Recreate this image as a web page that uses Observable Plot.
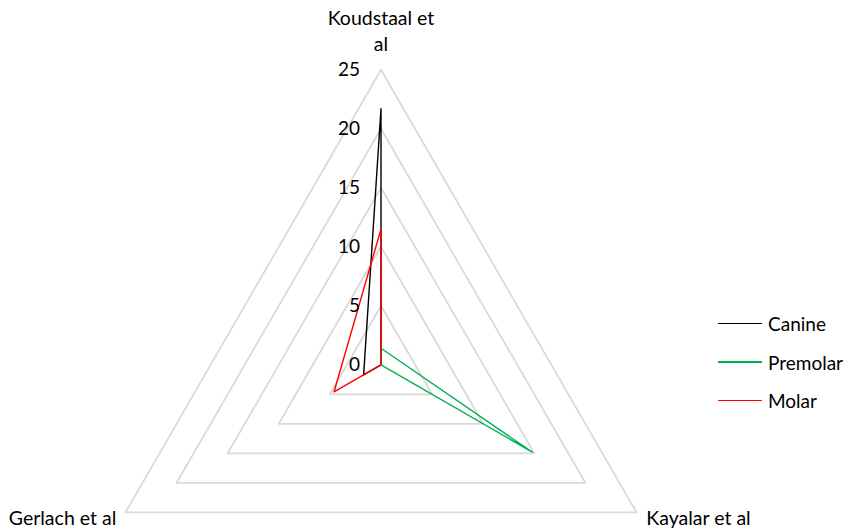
<!DOCTYPE html>
<html>
<head>
<meta charset="utf-8">
<script src="https://cdn.jsdelivr.net/npm/d3@7"></script>
<script src="https://cdn.jsdelivr.net/npm/@observablehq/plot@0.6"></script>
<style>
  html, body { margin: 0; padding: 0; background: #fff; }
  #wrap { position: relative; width: 846px; height: 530px; font-family: Lato, "Open Sans", sans-serif; }
  #legend { position: absolute; left: 718px; top: 304px; font-size: 19px; color: #000; }
  .item { display: flex; align-items: center; height: 38.7px; }
  .sw { width: 44px; height: 1.5px; margin-right: 6px; }
</style>
</head>
<body>
<div id="wrap"><div id="chart"></div><div id="legend"></div></div>
<script>
const axes = ["Koudstaal et al", "Kayalar et al", "Gerlach et al"];
const axisLabels = ["Koudstaal et\nal", "Kayalar et al", "Gerlach et al"];
const series = ["Canine", "Premolar", "Molar"];
const canine = [21.7, 0, 1.7];
const premolar = [1.4, 14.8, 0];
const molar = [11.5, 0, 4.6];
const ticks = [0, 5, 10, 15, 20, 25];
const colors = ["#000000", "#00b050", "#ff0000"];

// layout
const W = 846, H = 530, cx = 380.5, cy = 364.3, k = 11.8;
const angles = [90, -30, 210].map(d => d * Math.PI / 180);
const pt = (i, r) => [r * Math.cos(angles[i]), r * Math.sin(angles[i])];

// grid rings
const rings = [];
ticks.filter(t => t > 0).forEach(t => {
  [0, 1, 2, 0].forEach(i => { const [x, y] = pt(i, t); rings.push({ring: t, x, y}); });
});

// series polygons
const values = [canine, premolar, molar];
const lines = [];
series.forEach((s, si) => {
  [0, 1, 2, 0].forEach(i => { const [x, y] = pt(i, values[si][i]); lines.push({series: s, x, y}); });
});

const tickData = ticks.map(t => ({t, x: 0, y: t}));
const labelData = [
  {label: axisLabels[0], x: 0, y: (cy - 29) / k},
  {label: axisLabels[1], x: (698 - cx) / k, y: (cy - 516.5) / k},
  {label: axisLabels[2], x: (62 - cx) / k, y: (cy - 516.5) / k}
];

const chart = Plot.plot({
  width: W, height: H,
  marginTop: 0, marginRight: 0, marginBottom: 0, marginLeft: 0,
  x: {domain: [-cx / k, (W - cx) / k], range: [0, W], axis: null},
  y: {domain: [-(H - cy) / k, cy / k], range: [H, 0], axis: null},
  color: {domain: series, range: colors},
  style: {fontFamily: "Lato, 'Open Sans', sans-serif", background: "#fff"},
  marks: [
    Plot.line(rings, {x: "x", y: "y", z: "ring", stroke: "#d9d9d9", strokeWidth: 1.75}),
    Plot.line(lines, {x: "x", y: "y", z: "series", stroke: "series", strokeWidth: 1.4}),
    Plot.text(tickData, {x: "x", y: "y", text: d => String(d.t), dx: -21, textAnchor: "end", fontSize: 19, fill: "#000"}),
    Plot.text(labelData, {x: "x", y: "y", text: "label", fontSize: 19.5, lineHeight: 1.35, fill: "#000"})
  ]
});
document.getElementById("chart").append(chart);

const leg = document.getElementById("legend");
series.forEach((s, i) => {
  const d = document.createElement("div");
  d.className = "item";
  d.innerHTML = `<span class="sw" style="background:${colors[i]}"></span><span>${s}</span>`;
  leg.append(d);
});
</script>
</body>
</html>
